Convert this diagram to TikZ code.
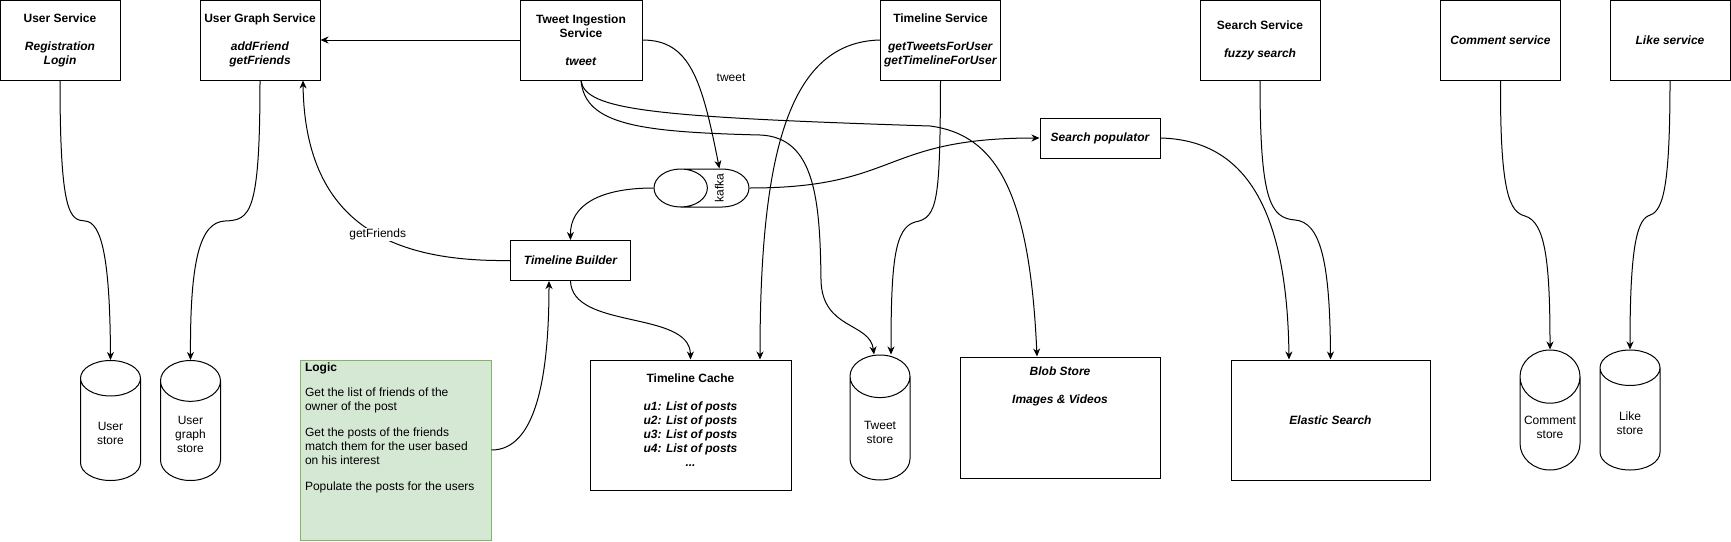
\documentclass[tikz,border=0pt]{standalone}
\usepackage{fontspec}
\setmainfont{Liberation Sans}
\usetikzlibrary{shapes.geometric,arrows.meta}
\definecolor{notefill}{HTML}{D5E8D4}
\definecolor{noteline}{HTML}{82B366}
\newcommand{\mth}[1]{\textbf{\textit{#1}}}
\begin{document}
\begin{tikzpicture}[x=1pt,y=-1pt,line width=1pt,>={Stealth[length=8pt,width=7pt,inset=2.5pt]},
  font=\fontsize{12}{14}\selectfont,
  svc/.style={draw,minimum width=120pt,minimum height=80pt,inner sep=2pt,align=center},
  mid/.style={draw,minimum width=120pt,minimum height=40pt,inner sep=2pt,font=\fontsize{12}{14}\selectfont\bfseries\itshape},
  store/.style={draw,cylinder,shape border rotate=90,aspect=1.33,minimum width=60pt,minimum height=120pt,align=center,anchor=shape center,inner xsep=0pt,inner ysep=1pt},
  lbl/.style={fill=white,inner sep=1pt}]
\useasboundingbox (0,0) rectangle (1731,541);
\node[svc] (us) at (60,40) {\textbf{User Service}\\[14pt]\mth{Registration}\\\mth{Login}};
\node[svc] (ugs) at (260,40) {\textbf{User Graph Service}\\[14pt]\mth{addFriend}\\\mth{getFriends}};
\node[svc,minimum width=122pt] (tis) at (581,40) {\textbf{Tweet Ingestion}\\\textbf{Service}\\[14pt]\mth{tweet}};
\node[svc] (ts) at (940.5,40) {\textbf{Timeline Service}\\[14pt]\mth{getTweetsForUser}\\\mth{getTimelineForUser}};
\node[svc] (ss) at (1260,40) {\textbf{Search Service}\\[14pt]\mth{fuzzy search}};
\node[svc] (cs) at (1500.5,40) {\mth{Comment service}};
\node[svc] (ls) at (1670,40) {\mth{Like service}};
\node[mid] (sp) at (1100,138) {Search populator};
\node[mid] (tb) at (570.5,260.5) {Timeline Builder};
\node[draw,cylinder,shape border rotate=180,aspect=1.74,minimum width=38pt,minimum height=95pt,anchor=shape center,inner sep=1pt] (kafka) at (701.5,188) {\rotatebox{90}{kafka}};
\node[store] (ustore) at (110.5,420.5) {\mbox{}\\[2pt]User\\store};
\node[store] (ugstore) at (190.5,420.5) {\mbox{}\\[2pt]User\\graph\\store};
\node[store,minimum height=125pt] (tstore) at (880,417.5) {\mbox{}\\[2pt]Tweet\\store};
\node[store] (cstore) at (1550,410) {\mbox{}\\[2pt]\makebox[40pt]{Comment}\\store};
\node[store] (lstore) at (1630,410) {\mbox{}\\[2pt]Like\\store};
\node[draw,inner sep=0pt] (tc) at (690.5,425) {\parbox[c][130pt][t]{201pt}{\centering\rule{0pt}{22pt}\textbf{Timeline Cache}\\[14pt]\mth{u1: List of posts}\\\mth{u2: List of posts}\\\mth{u3: List of posts}\\\mth{u4: List of posts}\\\mth{...}}};
\node[draw,inner sep=0pt] (blob) at (1060,417.5) {\parbox[c][121pt][t]{200pt}{\centering\rule{0pt}{18pt}\mth{Blob Store}\\[14pt]\mth{Images \& Videos}}};
\node[draw,minimum width=199pt,minimum height=120pt] (es) at (1330.5,420) {\mth{Elastic Search}};
\node[draw=noteline,fill=notefill,inner sep=0pt] (logic) at (395.5,450) {\parbox[c][180pt][t]{191pt}{\raggedright\leftskip=5pt\rule{0pt}{11pt}\textbf{Logic}\\[11pt]Get the list of friends of the\\owner of the post\\[12pt]Get the posts of the friends\\match them for the user based\\on his interest\\[12pt]Populate the posts for the users}};
\node (tw) at (731,78) {tweet};
\draw[->] (tis.west) -- (ugs.east);
\draw[->] (us.south) .. controls (60,215) and (70,220) .. (85,221) .. controls (102,222) and (110,260) .. (ustore.north);
\draw[->] (ugs.south) .. controls (260,215) and (250,220) .. (225,221) .. controls (200,222) and (190,260) .. (ugstore.north);
\draw[->] (tb.west) .. controls (400,262) and (305,230) .. ([xshift=43pt]ugs.south) node[lbl,pos=0.45] {getFriends};
\draw[->] (tis.east) .. controls (690,40) and (702,80) .. (kafka.north);
\draw[->] (kafka.west) .. controls (600,188) and (570,205) .. (tb.north);
\draw[->] (kafka.east) .. controls (900,188) and (880,138) .. (sp.west);
\draw[->] (tis.south) .. controls (585,110) and (650,117) .. (930,126) .. controls (1000,135) and (1030,200) .. ([xshift=-23pt]blob.north);
\draw[->] (tis.south) .. controls (585,125) and (640,132) .. (760,135) .. controls (815,137) and (820,200) .. (821,280) .. controls (822,330) and (870,322) .. ([xshift=-6pt]tstore.north);
\draw[->] (ts.west) .. controls (790,42) and (760,150) .. ([xshift=69.5pt]tc.north);
\draw[->] (ts.south) .. controls (940,200) and (938,218) .. (915,222) .. controls (895,228) and (891,260) .. ([xshift=11pt]tstore.north);
\draw[->] (tb.south) .. controls (572,330) and (690,310) .. (tc.north);
\draw[->] (logic.east) .. controls (535,450) and (549,380) .. ([xshift=-21.5pt]tb.south);
\draw[->] (sp.east) .. controls (1240,140) and (1287,200) .. ([xshift=-41.5pt]es.north);
\draw[->] (ss.south) .. controls (1260,200) and (1270,218) .. (1295,220) .. controls (1320,222) and (1330,260) .. (es.north);
\draw[->] (cs.south) .. controls (1500,195) and (1510,212) .. (1525,216) .. controls (1545,222) and (1550,260) .. (cstore.north);
\draw[->] (ls.south) .. controls (1670,195) and (1662,212) .. (1648,216) .. controls (1635,222) and (1630,260) .. (lstore.north);
\end{tikzpicture}
\end{document}
